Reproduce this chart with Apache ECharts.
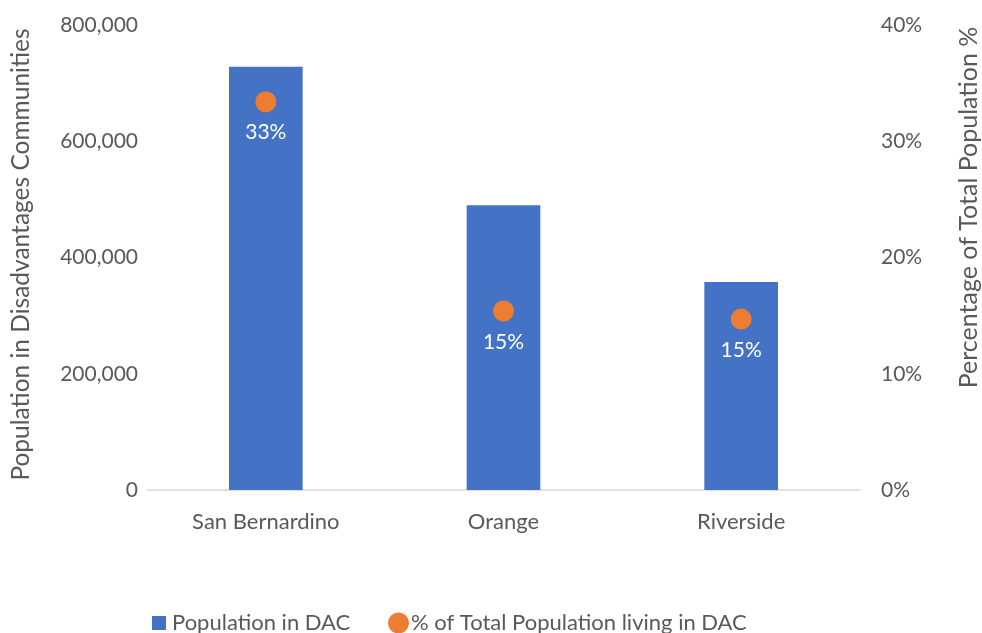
<!DOCTYPE html>
<html>
<head>
<meta charset="utf-8">
<script src="https://cdn.jsdelivr.net/npm/echarts@6/dist/echarts.min.js"></script>
<style>
  html, body { margin: 0; padding: 0; background: #fff; }
  #chart { width: 982px; height: 633px; }
</style>
</head>
<body>
<div id="chart"></div>
<script>
// Counties and values
const counties = ['San Bernardino', 'Orange', 'Riverside'];
const populationInDAC = [728000, 490000, 358000];
const pctOfTotal = [33.4, 15.4, 14.7];
const leftTicks = [0, 200000, 400000, 600000, 800000];
const rightTicks = [0, 10, 20, 30, 40];

const FONT = 'Lato';
const TEXT = '#595959';
const BLUE = '#4472C4';
const ORANGE = '#ED7D31';

const legendText = { fontFamily: FONT, fontSize: 22, color: TEXT, lineHeight: 24 };

const chart = echarts.init(document.getElementById('chart'));
chart.setOption({
  animation: false,
  textStyle: { fontFamily: FONT },
  grid: { left: 147, right: 122, top: 25, bottom: 143, containLabel: false, outerBoundsMode: 'none' },
  legend: [
    {
      top: 611,
      left: 152,
      padding: 0,
      itemWidth: 14,
      itemHeight: 14,
      textStyle: Object.assign({ padding: [0, 0, 0, 1] }, legendText),
      data: [{ name: 'Population in DAC', icon: 'rect', itemStyle: { color: BLUE } }]
    },
    {
      top: 611,
      left: 388,
      padding: 0,
      itemWidth: 21,
      itemHeight: 21,
      textStyle: Object.assign({ padding: [0, 0, 0, -3] }, legendText),
      data: [{ name: '% of Total Population living in DAC', icon: 'circle', itemStyle: { color: ORANGE } }]
    }
  ],
  xAxis: {
    type: 'category',
    data: counties,
    axisLine: { lineStyle: { color: '#D9D9D9', width: 1.5 } },
    axisTick: { show: false },
    axisLabel: { color: TEXT, fontSize: 22, margin: 21, fontFamily: FONT }
  },
  yAxis: [
    {
      type: 'value',
      min: leftTicks[0],
      max: leftTicks[leftTicks.length - 1],
      interval: leftTicks[1] - leftTicks[0],
      name: 'Population in Disadvantages Communities',
      nameLocation: 'middle',
      nameGap: 113,
      nameTextStyle: { color: TEXT, fontSize: 24.5, fontFamily: FONT, padding: [0, 0, 0, 6] },
      splitLine: { show: false },
      axisLine: { show: false },
      axisTick: { show: false },
      axisLabel: {
        color: TEXT, fontSize: 21, margin: 9, fontFamily: FONT,
        formatter: v => v.toLocaleString('en-US')
      }
    },
    {
      type: 'value',
      min: rightTicks[0],
      max: rightTicks[rightTicks.length - 1],
      interval: rightTicks[1] - rightTicks[0],
      name: 'Percentage of Total Population %',
      nameLocation: 'middle',
      nameGap: 96,
      nameTextStyle: { color: TEXT, fontSize: 25, fontFamily: FONT, padding: [0, 0, 0, 100] },
      splitLine: { show: false },
      axisLine: { show: false },
      axisTick: { show: false },
      axisLabel: {
        color: TEXT, fontSize: 21, margin: 21, fontFamily: FONT,
        formatter: v => v + '%'
      }
    }
  ],
  series: [
    {
      name: 'Population in DAC',
      type: 'bar',
      yAxisIndex: 0,
      data: populationInDAC,
      barWidth: '31%',
      itemStyle: { color: BLUE }
    },
    {
      name: '% of Total Population living in DAC',
      type: 'scatter',
      yAxisIndex: 1,
      data: pctOfTotal,
      symbol: 'circle',
      symbolSize: 21,
      itemStyle: { color: ORANGE, opacity: 1 },
      label: {
        show: true,
        position: 'bottom',
        distance: 10,
        color: '#FFFFFF',
        fontSize: 21,
        fontFamily: FONT,
        formatter: p => Math.round(p.value) + '%'
      }
    }
  ]
});
</script>
</body>
</html>
